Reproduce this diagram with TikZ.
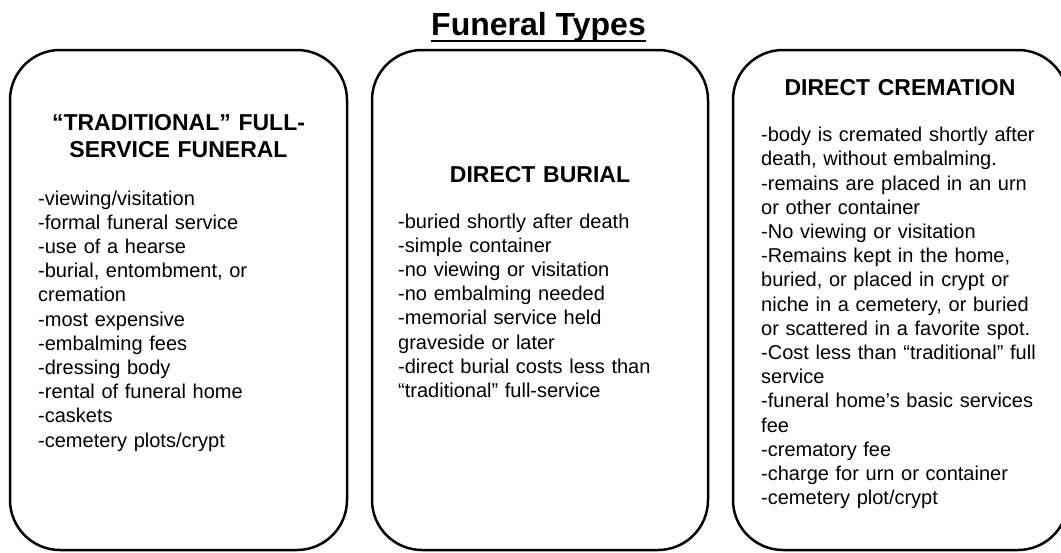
\documentclass[tikz,border=0pt]{standalone}
\usepackage{fontspec}
\setmainfont{Liberation Sans}
\usetikzlibrary{positioning}
\tikzset{
  ftbox/.style = {draw=black, line width=2.5pt, rounded corners=50pt,
    minimum height=500pt, inner sep=0pt},% cadre de colonne
  fthead/.style = {align=center, inner sep=0pt, text width=320pt,
    font=\bfseries\fontsize{23}{27}\selectfont},% titre de colonne
  ftitem/.style = {align=left, inner sep=0pt, text width=300pt,
    font=\fontsize{20}{24.2}\selectfont}% liste des points
}
\begin{document}
\begin{tikzpicture}[x=1pt,y=-1pt]
\useasboundingbox (0,0) rectangle (1061,552);
\clip (0,0) rectangle (1061,552);
\node [anchor=base, inner sep=0pt, font=\bfseries\fontsize{32}{38}\selectfont] (title) at (538.5,35) {Funeral Types};
\draw [line width=2pt] ([yshift=-6pt]title.base west) -- ([yshift=-6pt]title.base east);
% les trois colonnes
\node [ftbox, minimum width=337pt] (trad) at (178.5,300) {};
\node [ftbox, minimum width=336pt] (burial) at (540,300) {};
\node [ftbox, minimum width=335pt] (crem) at (900.5,300) {};
\node [fthead, anchor=base] (tradhead) at (178.5,130) {“TRADITIONAL” FULL-\\SERVICE FUNERAL};
\node [fthead, anchor=base] (burialhead) at (540,182) {DIRECT BURIAL};
\node [fthead, anchor=base] (cremhead) at (900,95) {DIRECT CREMATION};
\node [ftitem, anchor=base west] (tradlist) at (38,205) {-viewing/visitation\\
-formal funeral service\\
-use of a hearse\\
-burial, entombment, or\\
cremation\\
-most expensive\\
-embalming fees\\
-dressing body\\
-rental of funeral home\\
-caskets\\
-cemetery plots/crypt};
\node [ftitem, anchor=base west] (burlist) at (398,228) {-buried shortly after death\\
-simple container\\
-no viewing or visitation\\
-no embalming needed\\
-memorial service held\\
graveside or later\\
-direct burial costs less than\\
“traditional” full-service};
\node [ftitem, anchor=base west] (cremlist) at (761,141.7) {-body is cremated shortly after\\
death, without embalming.\\
-remains are placed in an urn\\
or other container\\
-No viewing or visitation\\
-Remains kept in the home,\\
buried, or placed in crypt or\\
niche in a cemetery, or buried\\
or scattered in a favorite spot.\\
-Cost less than “traditional” full\\
service\\
-funeral home’s basic services\\
fee\\
-crematory fee\\
-charge for urn or container\\
-cemetery plot/crypt};
\end{tikzpicture}
\end{document}
